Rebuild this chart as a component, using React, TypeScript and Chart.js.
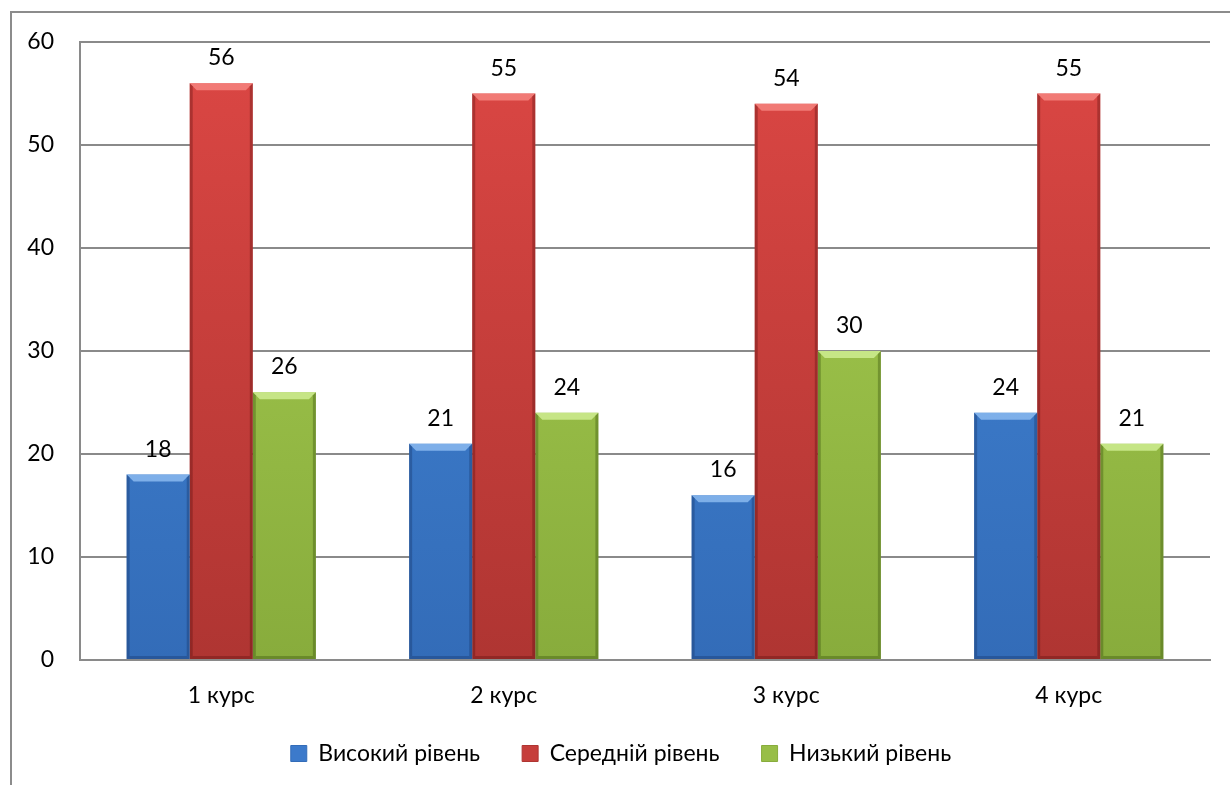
import React, { useEffect, useRef } from "react";
import { Chart, registerables } from "chart.js";

Chart.register(...registerables);

const categories = ["1 курс", "2 курс", "3 курс", "4 курс"];
const seriesNames = ["Високий рівень", "Середній рівень", "Низький рівень"];
const highLevel = [18, 21, 16, 24];
const mediumLevel = [56, 55, 54, 55];
const lowLevel = [26, 24, 30, 21];
const yMin = 0;
const yMax = 60;
const yStep = 10;

const FONT = "Lato, 'Open Sans', sans-serif";
const FONT_SIZE = 23;
const GRID = "#8a8a8a";

const palette = [
  { top: "#4387D8", bottom: "#336CB8", solid: "#3C7ACB", light: "rgba(150,195,245,0.75)", dark: "rgba(20,50,100,0.35)" },
  { top: "#DC4744", bottom: "#AF3532", solid: "#C63E3B", light: "rgba(250,140,135,0.75)", dark: "rgba(90,15,15,0.35)" },
  { top: "#A8CF52", bottom: "#88AC3C", solid: "#98BE47", light: "rgba(210,240,150,0.8)", dark: "rgba(50,75,10,0.35)" },
];

const seriesValues = [highLevel, mediumLevel, lowLevel];

function makeGradient(ctx: any, idx: number) {
  const chart = ctx.chart;
  const area = chart.chartArea;
  if (!area) return palette[idx].solid;
  const g = chart.ctx.createLinearGradient(0, area.top, 0, area.bottom);
  g.addColorStop(0, palette[idx].top);
  g.addColorStop(1, palette[idx].bottom);
  return g;
}

const framePlugin = {
  id: "frame",
  beforeDraw(chart: any) {
    const c = chart.ctx;
    c.save();
    c.fillStyle = "#ffffff";
    c.fillRect(0, 0, chart.width, chart.height);
    c.strokeStyle = "#8c8c8c";
    c.lineWidth = 2;
    c.strokeRect(11, 12, chart.width + 50, chart.height + 50);
    c.restore();
  },
};

const legendShiftPlugin = {
  id: "legendShift",
  afterLayout(chart: any) {
    const lg = chart.legend;
    if (!lg) return;
    lg.top -= 10;
    lg.bottom -= 10;
    lg.left += 3;
    lg.right += 3;
  },
};

const bevelPlugin = {
  id: "bevel",
  afterDatasetsDraw(chart: any) {
    const c = chart.ctx;
    c.save();
    chart.data.datasets.forEach((ds: any, di: number) => {
      const meta = chart.getDatasetMeta(di);
      meta.data.forEach((el: any) => {
        const p = el.getProps(["x", "y", "base", "width"], true);
        const l = p.x - p.width / 2;
        const r = p.x + p.width / 2;
        const t = p.y;
        const b = p.base;
        const bv = 7;
        const sv = 3;
        c.fillStyle = palette[di].light;
        c.beginPath();
        c.moveTo(l, t);
        c.lineTo(r, t);
        c.lineTo(r - bv, t + bv);
        c.lineTo(l + bv, t + bv);
        c.closePath();
        c.fill();
        c.fillStyle = palette[di].dark;
        c.beginPath();
        c.moveTo(r, t);
        c.lineTo(r, b);
        c.lineTo(r - sv, b - sv);
        c.lineTo(r - sv, t + sv);
        c.closePath();
        c.fill();
        c.beginPath();
        c.moveTo(l, t);
        c.lineTo(l + sv, t + sv);
        c.lineTo(l + sv, b - sv);
        c.lineTo(l, b);
        c.closePath();
        c.fill();
        c.beginPath();
        c.moveTo(l, b);
        c.lineTo(l + sv, b - sv);
        c.lineTo(r - sv, b - sv);
        c.lineTo(r, b);
        c.closePath();
        c.fill();
      });
    });
    c.restore();
  },
};

const labelPlugin = {
  id: "valueLabels",
  afterDatasetsDraw(chart: any) {
    const c = chart.ctx;
    c.save();
    c.font = `${FONT_SIZE}px ${FONT}`;
    c.fillStyle = "#000000";
    c.textAlign = "center";
    c.textBaseline = "alphabetic";
    chart.data.datasets.forEach((ds: any, di: number) => {
      const meta = chart.getDatasetMeta(di);
      meta.data.forEach((el: any, i: number) => {
        const p = el.getProps(["x", "y"], true);
        c.fillText(String(ds.data[i]), p.x, p.y - 18);
      });
    });
    c.restore();
  },
};

export default function App() {
  const ref = useRef<HTMLCanvasElement | null>(null);

  useEffect(() => {
    if (!ref.current) return;
    const chart = new Chart(ref.current, {
      type: "bar",
      data: {
        labels: categories,
        datasets: seriesNames.map((name, i) => ({
          label: name,
          data: seriesValues[i],
          backgroundColor: (ctx: any) => makeGradient(ctx, i),
          borderWidth: 0,
          barPercentage: 1,
          categoryPercentage: 0.67,
        })),
      },
      options: {
        animation: false,
        responsive: false,
        devicePixelRatio: 1,
        layout: { padding: { top: 42, left: 26, right: 20, bottom: 0 } },
        plugins: {
          tooltip: { enabled: false },
          legend: {
            position: "bottom",
            align: "center",
            labels: {
              font: { family: FONT, size: FONT_SIZE },
              color: "#000000",
              boxWidth: 16,
              boxHeight: 16,
              padding: 42,
              generateLabels: () =>
                seriesNames.map((name, i) => ({
                  text: name,
                  fillStyle: palette[i].solid,
                  strokeStyle: palette[i].bottom,
                  lineWidth: 1,
                  hidden: false,
                  datasetIndex: i,
                })),
            },
          },
        },
        scales: {
          x: {
            grid: { display: false, drawTicks: false },
            border: { display: true, color: GRID, width: 2 },
            ticks: {
              font: { family: FONT, size: FONT_SIZE },
              color: "#000000",
              padding: 22,
            },
            afterFit: (s: any) => {
              s.height = 50;
            },
          },
          y: {
            min: yMin,
            max: yMax,
            grid: { color: GRID, lineWidth: 2, drawTicks: false },
            border: { display: true, color: GRID, width: 2 },
            ticks: {
              stepSize: yStep,
              font: { family: FONT, size: FONT_SIZE },
              color: "#000000",
              padding: 26,
            },
            afterFit: (s: any) => {
              s.width = 54;
            },
          },
        },
      },
      plugins: [framePlugin, legendShiftPlugin, bevelPlugin, labelPlugin],
    });
    return () => chart.destroy();
  }, []);

  return (
    <div style={{ position: "absolute", left: 0, top: 0, width: 1230, height: 785 }}>
      <canvas ref={ref} width={1230} height={785} style={{ display: "block" }} />
    </div>
  );
}
